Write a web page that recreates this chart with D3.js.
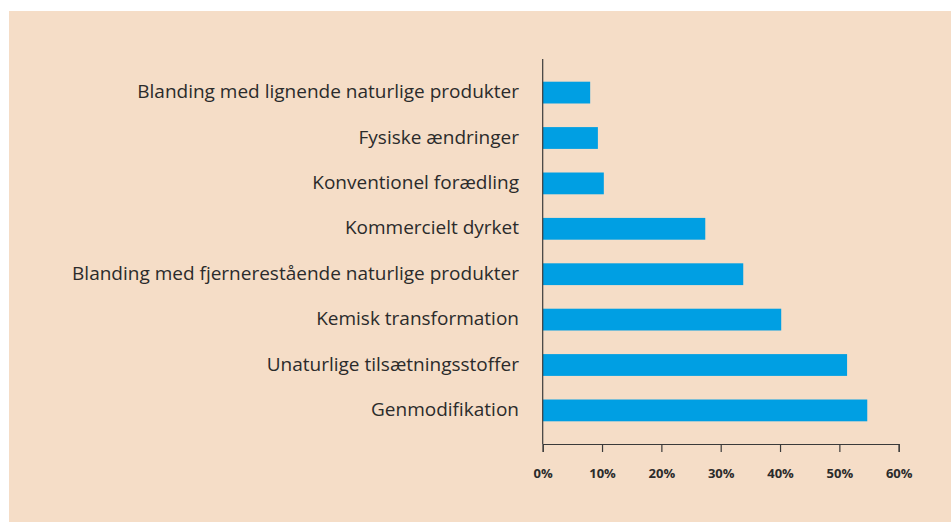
<!DOCTYPE html>
<html lang="da">
<head>
    <meta charset="UTF-8">
    <title>Naturlige produkter</title>
    <script src="https://d3js.org/d3.v7.min.js"></script>
    <style>
        body { margin: 0; background: #fff; }
        text { font-family: "Open Sans", "Noto Sans", sans-serif; fill: #2b2b2b; }
    </style>
</head>
<body>
<svg id="chart"></svg>
<script>
    // categories, top to bottom
    categories = [
        "Blanding med lignende naturlige produkter",
        "Fysiske ændringer",
        "Konventionel forædling",
        "Kommercielt dyrket",
        "Blanding med fjernerestående naturlige produkter",
        "Kemisk transformation",
        "Unaturlige tilsætningsstoffer",
        "Genmodifikation"
    ];
    // share in percent
    values = [8.0, 9.3, 10.3, 27.4, 33.8, 40.2, 51.3, 54.7];
    ticks = [0, 10, 20, 30, 40, 50, 60];

    data = categories.map((c, i) => ({label: c, value: values[i]}));

    width = 951;
    height = 522;

    svg = d3.select("#chart")
        .attr("width", width)
        .attr("height", height);

    // beige panel
    svg.append("rect")
        .attr("x", 9).attr("y", 11)
        .attr("width", width - 9).attr("height", height - 11)
        .attr("fill", "#f5ddc7");

    xScale = d3.scaleLinear()
        .domain([0, 60])
        .range([542.7, 898.7]);

    yScale = d3.scaleBand()
        .domain(categories)
        .range([59, 444])
        .paddingInner(0.52)
        .paddingOuter(0.5);

    // bars
    svg.selectAll(".bar")
        .data(data)
        .enter().append("rect")
        .classed("bar", true)
        .attr("x", xScale(0))
        .attr("y", d => yScale(d.label))
        .attr("height", yScale.bandwidth())
        .attr("width", d => xScale(d.value) - xScale(0))
        .attr("fill", "#009fe3");

    // category labels
    svg.selectAll(".label")
        .data(data)
        .enter().append("text")
        .classed("label", true)
        .attr("x", 519)
        .attr("y", d => yScale(d.label) + yScale.bandwidth() / 2)
        .attr("dy", "0.3em")
        .attr("text-anchor", "end")
        .style("font-size", "19px")
        .text(d => d.label);

    // vertical axis line
    svg.append("line")
        .attr("x1", xScale(0)).attr("x2", xScale(0))
        .attr("y1", 59).attr("y2", 444)
        .attr("stroke", "#3a3a3a")
        .attr("stroke-width", 1.2);

    // x axis
    xAxis = d3.axisBottom(xScale)
        .tickValues(ticks)
        .tickSize(8)
        .tickPadding(17)
        .tickFormat(d => d + "%");

    axisG = svg.append("g")
        .attr("transform", "translate(0,444)")
        .call(xAxis);

    axisG.select(".domain")
        .attr("stroke", "#3a3a3a")
        .attr("stroke-width", 1.2);
    axisG.selectAll(".tick line")
        .attr("stroke", "#3a3a3a")
        .attr("stroke-width", 1.2);
    axisG.selectAll(".tick text")
        .attr("fill", "#2b2b2b")
        .style("font-family", "\"Open Sans\", sans-serif")
        .style("font-size", "13px")
        .style("font-weight", "bold");
</script>
</body>
</html>
